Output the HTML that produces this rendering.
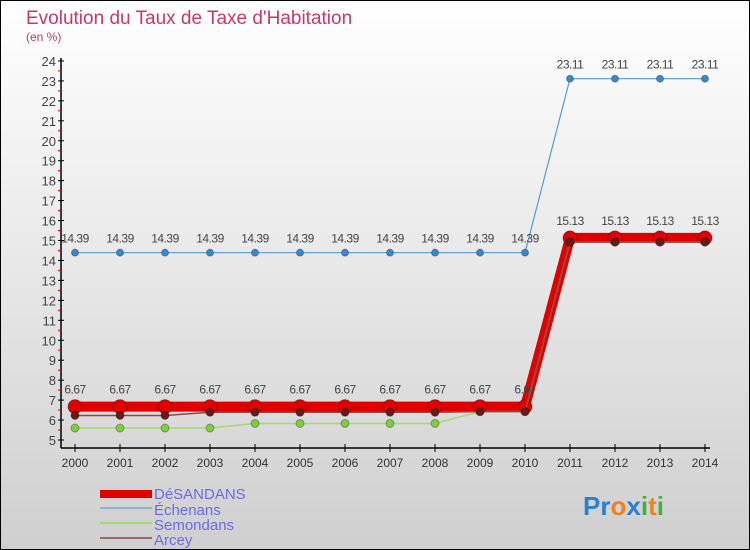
<!DOCTYPE html>
<html><head><meta charset="utf-8"><style>
body{margin:0;width:750px;height:550px;overflow:hidden;font-family:"Liberation Sans",sans-serif}
#wrap{position:absolute;left:0;top:0;width:748px;height:548px;border:1px solid #000;background:linear-gradient(#ffffff,#cfcfcf)}
</style></head><body>
<div id="wrap">
<svg id="chart" width="750" height="550" style="position:absolute;left:-1px;top:-1px">
<text x="26" y="24" font-size="19" fill="#c8386a">Evolution du Taux de Taxe d'Habitation</text>
<text x="26" y="41" font-size="12" fill="#c8386a">(en %)</text>
<g id="axes"></g><g id="series"></g>
<g>
<rect x="100" y="490" width="52" height="8" fill="#e00000"/>
<text x="154" y="499" font-size="15" fill="#6a6ae8">DéSANDANS</text>
<line x1="100" y1="508" x2="152" y2="508" stroke="#8fb3d0" stroke-width="2"/>
<text x="154" y="515" font-size="15" fill="#6a6ae8">Échenans</text>
<line x1="100" y1="523" x2="152" y2="523" stroke="#9fdc70" stroke-width="2"/>
<text x="154" y="530" font-size="15" fill="#6a6ae8">Semondans</text>
<line x1="100" y1="538" x2="152" y2="538" stroke="#9a6a6a" stroke-width="2"/>
<text x="154" y="545" font-size="15" fill="#6a6ae8">Arcey</text>
</g>
<text x="583" y="515" font-size="26" font-weight="bold"><tspan fill="#2a7fd0">Pr</tspan><tspan fill="#f08020">o</tspan><tspan fill="#2a7fd0">x</tspan><tspan fill="#40b040">i</tspan><tspan fill="#f08020">t</tspan><tspan fill="#40b040">i</tspan></text>
</svg></div>
<script>
const years=[2000,2001,2002,2003,2004,2005,2006,2007,2008,2009,2010,2011,2012,2013,2014];
const yTicks=[5,6,7,8,9,10,11,12,13,14,15,16,17,18,19,20,21,22,23,24];
const desandans=[6.67,6.67,6.67,6.67,6.67,6.67,6.67,6.67,6.67,6.67,6.67,15.13,15.13,15.13,15.13];
const echenans=[14.39,14.39,14.39,14.39,14.39,14.39,14.39,14.39,14.39,14.39,14.39,23.11,23.11,23.11,23.11];
const semondans=[5.6,5.6,5.6,5.6,5.83,5.83,5.83,5.83,5.83,6.42,6.42,14.92,14.92,14.92,14.92];
const arcey=[6.23,6.23,6.23,6.39,6.39,6.39,6.39,6.39,6.39,6.42,6.42,14.92,14.92,14.92,14.92];
const NS="http://www.w3.org/2000/svg";
const X=i=>75+i*45, Y=v=>440-(v-5)*19.95;
function mk(t,a,p){const e=document.createElementNS(NS,t);for(const k in a)e.setAttribute(k,a[k]);p.appendChild(e);return e;}
const ax=document.getElementById('axes');
const yl=mk('line',{x1:61,y1:58,x2:61,y2:448,stroke:'#000','stroke-width':1.5},ax);


const xl=mk('line',{x1:61,y1:448,x2:710,y2:448,stroke:'#000','stroke-width':1.5},ax);


yTicks.forEach(v=>{const y=Y(v);mk('line',{x1:58,y1:y,x2:64,y2:y,stroke:'#000'},ax);
 if(v<24)mk('line',{x1:58,y1:y-10,x2:61,y2:y-10,stroke:'#e00000'},ax);
 const t=mk('text',{x:56,y:y+5,'text-anchor':'end','font-size':13,fill:'#444'},ax);t.textContent=v;
 
 });
years.forEach((yr,i)=>{const x=X(i);mk('line',{x1:x,y1:444,x2:x,y2:452,stroke:'#000'},ax);
 const t=mk('text',{x:x,y:467,'text-anchor':'middle','font-size':12,fill:'#333'},ax);t.textContent=yr;
 
 });
const sg=document.getElementById('series');
function draw(name,vals,color,w,r,fill,lab){
 const g=mk('g',{},sg);
 
 
 mk('polyline',{points:vals.map((v,i)=>X(i)+','+Y(v)).join(' '),fill:'none',stroke:color,'stroke-width':w,'stroke-linejoin':'round'},g);
 vals.forEach((v,i)=>{const c=mk('circle',{cx:X(i),cy:Y(v),r:r,fill:fill,stroke:'rgba(0,0,0,0.3)'},g);
  
  
  if(lab){const t=mk('text',{x:X(i),y:Y(v)-lab,'text-anchor':'middle','font-size':12,fill:'#444','letter-spacing':'-0.5'},g);t.textContent=v.toFixed(2).replace(/0$/,'');}});
}
draw('series-echenans',echenans,'#5a9ad0',1.2,3.5,'#3a88cc',10);
draw('series-desandans',desandans,'#e00000',10,7,'#e00000',13);
draw('series-semondans',semondans,'#9fdc70',1.5,4,'#80cc40',0);
draw('series-arcey',arcey,'#8a4a4a',1.5,4,'#6a1a1a',0);
</script>
</body></html>
